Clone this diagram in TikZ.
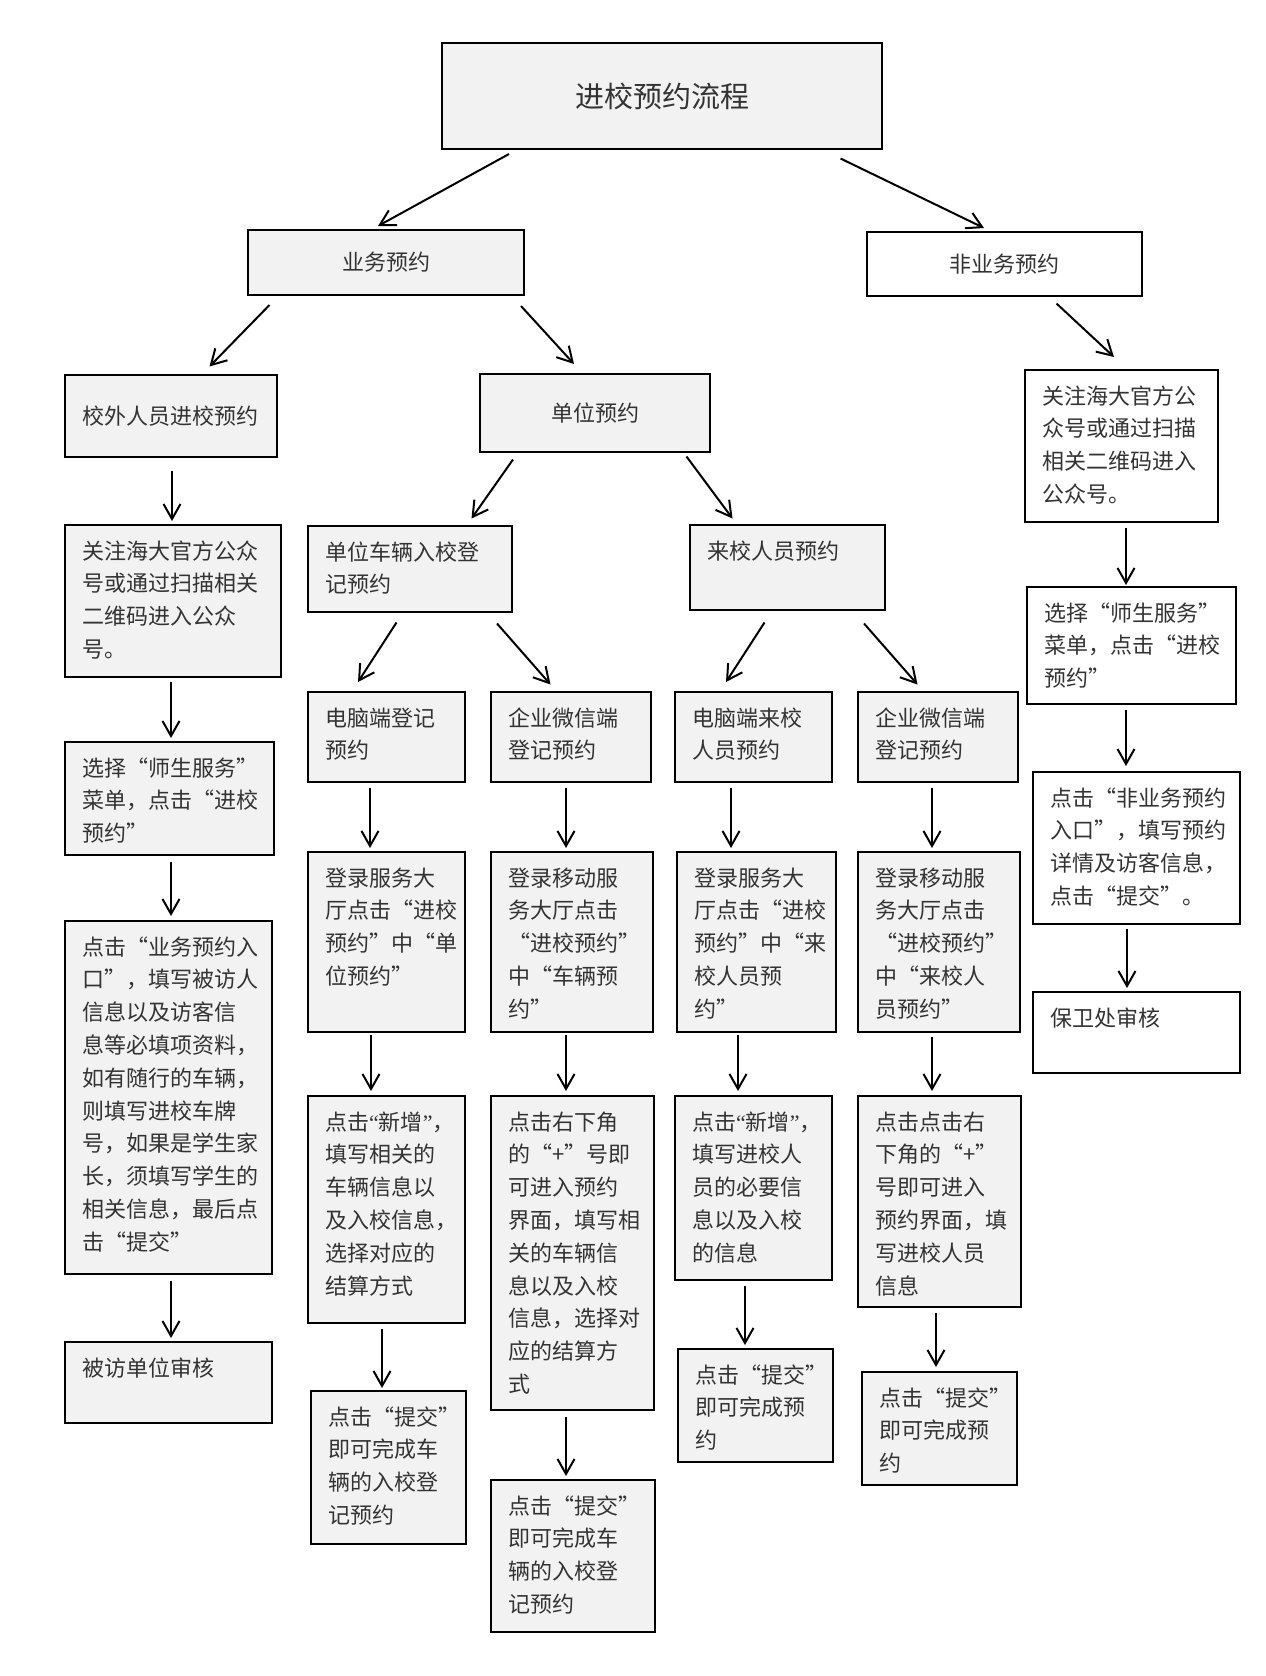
\documentclass[tikz,border=0pt]{standalone}
\usepackage{fontspec}
\newfontfamily\cjk{Noto Sans CJK SC}
\newfontfamily\comillas{Liberation Serif}
\usetikzlibrary{arrows.meta}
\definecolor{relleno}{HTML}{F2F2F2}
\definecolor{texto}{HTML}{333333}
\newcommand\abre{{\comillas “}}
\newcommand\cierra{{\comillas ”}}
\begin{document}
\begin{tikzpicture}[->,>={Straight Barb[length=15pt,width=17pt]}, line width=2pt, x=1pt, y=-1pt,
  caja/.style={draw, line width=2.6pt, fill=relleno, anchor=north west, outer sep=0pt, text=texto, font=\cjk\fontsize{22}{32.8}\selectfont},
  cajacentro/.style={caja},
  cajaarriba/.style={caja, inner xsep=17pt, inner ysep=8pt, text height=26pt, align=left},
  blanca/.style={fill=white}]
\useasboundingbox (0,0) rectangle (1266,1676);
% Nodos
\node [cajacentro, minimum width=440pt, minimum height=106pt, font=\cjk\fontsize{29}{35}\selectfont] (titulo) at (442,43) {进校预约流程};
\node [cajacentro, minimum width=276pt, minimum height=65pt] (negocio) at (248,230) {业务预约};
\node [cajacentro, blanca, minimum width=275pt, minimum height=64pt] (nonegocio) at (867,232) {非业务预约};
\node [cajacentro, minimum width=212pt, minimum height=82pt, inner xsep=17pt, text width=178pt, align=left] (externo) at (65,375) {校外人员进校预约};
\node [cajacentro, minimum width=230pt, minimum height=78pt] (unidad) at (480,374) {单位预约};
% ---
% izquierda
% ---
\node [cajaarriba, text width=182pt, text depth=110pt] (lsigue) at (65,525) {关注海大官方公众\\号或通过扫描相关\\二维码进入公众\\号。};
\node [cajaarriba, text width=175pt, text depth=71pt] (lmenu) at (65,742) {选择“师生服务”\\菜单，点击“进校\\预约”};
\node [cajaarriba, text width=173pt, text depth=311pt] (lentrada) at (65,921) {点击“业务预约入\\口”，填写被访人\\信息以及访客信\\息等必填项资料，\\如有随行的车辆，\\则填写进校车牌\\号，如果是学生家\\长，须填写学生的\\相关信息，最后点\\击“提交”};
\node [cajaarriba, text width=173pt, text depth=39pt] (anfitrion) at (65,1342) {被访单位审核};
% ---
% vehiculos
% ---
\node [cajaarriba, text width=170pt, text depth=44pt] (coche) at (308,526) {单位车辆入校登\\记预约};
\node [cajaarriba, text width=123pt, text depth=48pt] (cochepc) at (308,692) {电脑端登记\\预约};
\node [cajaarriba, text width=126pt, text depth=48pt] (cochewx) at (491,692) {企业微信端\\登记预约};
\node [cajaarriba, text width=123pt, text depth=138pt] (cochepclog) at (308,852) {登录服务大\\厅点击“进校\\预约”中“单\\位预约”};
\node [cajaarriba, text width=128pt, text depth=138pt] (cochewxlog) at (491,852) {登录移动服\\务大厅点击\\“进校预约”\\中“车辆预\\约”};
\node [cajaarriba, text width=123pt, text depth=185pt] (cochepcnuevo) at (308,1096) {点击\abre 新增\cierra，\\填写相关的\\车辆信息以\\及入校信息，\\选择对应的\\结算方式};
\node [cajaarriba, text width=129pt, text depth=272pt] (cochewxnuevo) at (491,1096) {点击右下角\\的“+”号即\\可进入预约\\界面，填写相\\关的车辆信\\息以及入校\\信息，选择对\\应的结算方\\式};
\node [cajaarriba, text width=121pt, text depth=111pt] (cochepcfin) at (311,1391) {点击“提交”\\即可完成车\\辆的入校登\\记预约};
\node [cajaarriba, text width=130pt, text depth=110pt] (cochewxfin) at (491,1480) {点击“提交”\\即可完成车\\辆的入校登\\记预约};
% ---
% visitantes
% ---
\node [cajaarriba, text width=161pt, text depth=43pt] (visita) at (690,525) {来校人员预约};
\node [cajaarriba, text width=123pt, text depth=48pt] (visitapc) at (675,692) {电脑端来校\\人员预约};
\node [cajaarriba, text width=126pt, text depth=48pt] (visitawx) at (858,692) {企业微信端\\登记预约};
\node [cajaarriba, text width=125pt, text depth=138pt] (visitapclog) at (677,852) {登录服务大\\厅点击“进校\\预约”中“来\\校人员预\\约”};
\node [cajaarriba, text width=128pt, text depth=138pt] (visitawxlog) at (858,852) {登录移动服\\务大厅点击\\“进校预约”\\中“来校人\\员预约”};
\node [cajaarriba, text width=123pt, text depth=142pt] (visitapcnuevo) at (675,1096) {点击\abre 新增\cierra，\\填写进校人\\员的必要信\\息以及入校\\的信息};
\node [cajaarriba, text width=129pt, text depth=169pt] (visitawxnuevo) at (858,1096) {点击点击右\\下角的“+”\\号即可进入\\预约界面，填\\写进校人员\\信息};
\node [cajaarriba, text width=121pt, text depth=71pt] (visitapcfin) at (678,1349) {点击“提交”\\即可完成预\\约};
\node [cajaarriba, text width=121pt, text depth=71pt] (visitawxfin) at (862,1372) {点击“提交”\\即可完成预\\约};
% ---
% derecha
% ---
\node [cajaarriba, blanca, text width=159pt, text depth=110pt] (rsigue) at (1025,370) {关注海大官方公\\众号或通过扫描\\相关二维码进入\\公众号。};
\node [cajaarriba, blanca, text width=175pt, text depth=75pt] (rmenu) at (1027,587) {选择“师生服务”\\菜单，点击“进校\\预约”};
\node [cajaarriba, blanca, text width=173pt, text depth=110pt] (rentrada) at (1033,772) {点击“非业务预约\\入口”，填写预约\\详情及访客信息，\\点击“提交”。};
\node [cajaarriba, blanca, text width=173pt, text depth=39pt] (guardia) at (1033,992) {保卫处审核};
% Flechas
% ---
% diagonales
% ---
\draw ([shift={(67,5)}]titulo.south west) -- ([shift={(-8,-4)}]negocio.north);
\draw ([shift={(-41.5,9.5)}]titulo.south east) -- ([shift={(-20.5,-4)}]nonegocio.north);
\draw ([shift={(21.5,10)}]negocio.south west) -- ([shift={(38.5,-8.5)}]externo.north);
\draw ([shift={(-3,11)}]negocio.south east) -- ([shift={(-21,-10)}]unidad.north);
\draw ([shift={(52,7.5)}]nonegocio.south) -- ([shift={(-7.5,-13)}]rsigue.north);
\draw ([shift={(33,7.5)}]unidad.south west) -- ([shift={(61.5,-7.5)}]coche.north);
\draw ([shift={(-23.5,4.5)}]unidad.south east) -- ([shift={(-55,-6.5)}]visita.north);
\draw ([shift={(-13.5,10.5)}]coche.south) -- ([shift={(-28.5,-10)}]cochepc.north);
\draw ([shift={(-15,11.5)}]coche.south east) -- ([shift={(-20.5,-7.5)}]cochewx.north);
\draw ([shift={(-23,12.5)}]visita.south) -- ([shift={(-27.5,-10)}]visitapc.north);
\draw ([shift={(-21,13.5)}]visita.south east) -- ([shift={(-20.5,-7.5)}]visitawx.north);
% ---
% verticales
% ---
\draw ([shift={(1,13.5)}]externo.south) -- ([shift={(-1,-4)}]lsigue.north);
\draw ([shift={(-2,5)}]lsigue.south) -- ([shift={(1.5,-4)}]lmenu.north);
\draw ([shift={(1.5,7)}]lmenu.south) -- ([shift={(2.5,-5)}]lentrada.north);
\draw ([shift={(2.5,7)}]lentrada.south) -- ([shift={(2.5,-4)}]anfitrion.north);
\draw ([shift={(4.5,6)}]rsigue.south) -- ([shift={(-5.5,-2)}]rmenu.north);
\draw ([shift={(-5.5,6)}]rmenu.south) -- ([shift={(-10.5,-6)}]rentrada.north);
\draw ([shift={(-9.5,5)}]rentrada.south) -- ([shift={(-9.5,-4)}]guardia.north);
\draw ([shift={(-16.5,6)}]cochepc.south) -- ([shift={(-16.5,-4)}]cochepclog.north);
\draw ([shift={(-15.5,3)}]cochepclog.south) -- ([shift={(-15.5,-5)}]cochepcnuevo.north);
\draw ([shift={(-4.5,6)}]cochepcnuevo.south) -- ([shift={(-6.5,-3)}]cochepcfin.north);
\draw ([shift={(-5,6)}]cochewx.south) -- ([shift={(-6,-4)}]cochewxlog.north);
\draw ([shift={(-6,3)}]cochewxlog.south) -- ([shift={(-6.5,-5)}]cochewxnuevo.north);
\draw ([shift={(-6.5,7)}]cochewxnuevo.south) -- ([shift={(-7,-4)}]cochewxfin.north);
\draw ([shift={(-22.5,6)}]visitapc.south) -- ([shift={(-25.5,-4)}]visitapclog.north);
\draw ([shift={(-18.5,3)}]visitapclog.south) -- ([shift={(-15.5,-5)}]visitapcnuevo.north);
\draw ([shift={(-8.5,6)}]visitapcnuevo.south) -- ([shift={(-10.5,-4)}]visitapcfin.north);
\draw ([shift={(-6,6)}]visitawx.south) -- ([shift={(-7,-4)}]visitawxlog.north);
\draw ([shift={(-7,5)}]visitawxlog.south) -- ([shift={(-7.5,-5)}]visitawxnuevo.north);
\draw ([shift={(-3.5,6)}]visitawxnuevo.south) -- ([shift={(-3.5,-5)}]visitawxfin.north);
\end{tikzpicture}
\end{document}
